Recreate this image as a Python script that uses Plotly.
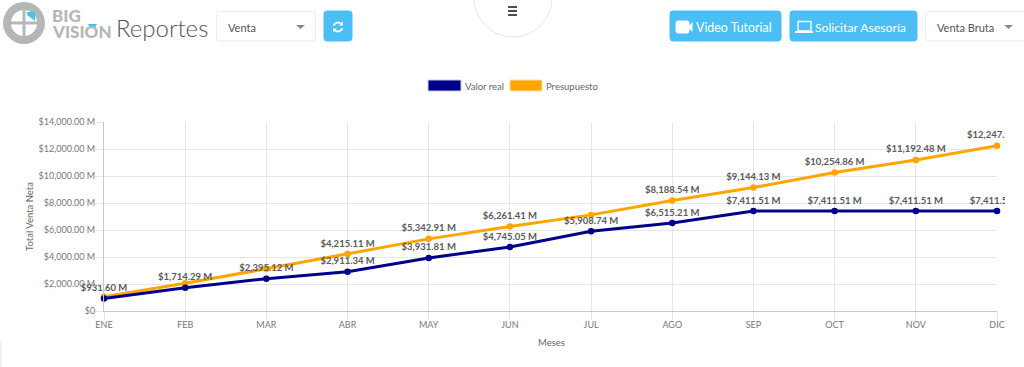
import plotly.graph_objects as go

meses = ["ENE","FEB","MAR","ABR","MAY","JUN","JUL","AGO","SEP","OCT","NOV","DIC"]
valor_real = [931.60,1714.29,2395.12,2911.34,3931.81,4745.05,5908.74,6515.21,7411.51,7411.51,7411.51,7411.51]
presupuesto = [1060,2050,3130,4215.11,5342.91,6261.41,7120,8188.54,9144.13,10254.86,11192.48,12247.90]
presupuesto_con_etiqueta = [False,False,False,True,True,True,False,True,True,True,True,True]
y_ticks = [0,2000,4000,6000,8000,10000,12000,14000]

W, H = 1024, 367
L, R, T, B = 104, 997, 122, 311

def fx(x): return (x - L) / (R - L)
def fy(y): return (B - y) / (B - T)
def money(v): return f"${v:,.2f} M"

shapes, annots = [], []

def rrect(x0, y0, x1, y1, fill, line=None, r=3):
    X0, X1, Y0, Y1 = fx(x0), fx(x1), fy(y0), fy(y1)
    rx, ry = r / (R - L), r / (B - T)
    p = (f"M {X0+rx} {Y0} L {X1-rx} {Y0} Q {X1} {Y0} {X1} {Y0-ry} L {X1} {Y1+ry} Q {X1} {Y1} {X1-rx} {Y1} "
         f"L {X0+rx} {Y1} Q {X0} {Y1} {X0} {Y1+ry} L {X0} {Y0-ry} Q {X0} {Y0} {X0+rx} {Y0} Z")
    shapes.append(dict(type="path", xref="paper", yref="paper", path=p, fillcolor=fill,
                       line=dict(color=line or fill, width=1), layer="above"))

def rect(x0, y0, x1, y1, fill, line=None, lw=0):
    shapes.append(dict(type="rect", xref="paper", yref="paper", x0=fx(x0), x1=fx(x1), y0=fy(y1), y1=fy(y0),
                       fillcolor=fill, line=dict(color=line or fill, width=lw), layer="above"))

def circle(cx, cy, r, fill, line=None, lw=0):
    shapes.append(dict(type="circle", xref="paper", yref="paper", x0=fx(cx-r), x1=fx(cx+r), y0=fy(cy+r), y1=fy(cy-r),
                       fillcolor=fill, line=dict(color=line or fill, width=lw), layer="above"))

def poly(pts, fill):
    p = "M " + " L ".join(f"{fx(a)} {fy(b)}" for a, b in pts) + " Z"
    shapes.append(dict(type="path", xref="paper", yref="paper", path=p, fillcolor=fill,
                       line=dict(color=fill, width=0), layer="above"))

def arc(a, c, b, color, lw):
    p = f"M {fx(a[0])} {fy(a[1])} Q {fx(c[0])} {fy(c[1])} {fx(b[0])} {fy(b[1])}"
    shapes.append(dict(type="path", xref="paper", yref="paper", path=p, fillcolor="rgba(0,0,0,0)",
                       line=dict(color=color, width=lw), layer="above"))

def text(x, y, s, size, color, font="Lato", anchor="left", angle=0, weight=400):
    annots.append(dict(xref="paper", yref="paper", x=fx(x), y=fy(y), text=s, showarrow=False,
                       xanchor=anchor, yanchor="middle", textangle=angle, borderpad=0, borderwidth=0,
                       font=dict(size=size, color=color, family=font, weight=weight)))

BLUE = "#4bbff5"
# clip right edge of chart canvas
rect(1005, 100, 1024, 325, "white")

# Top centre tab
circle(513, -2, 39, "white", "#e6e6e6", 1)
for yy in (7, 11, 15):
    rect(508, yy-0.8, 517, yy+0.8, "#222222")

# Logo
circle(24, 23, 21, "#b4b6b8")
circle(24, 23, 13, "white")
rect(22.5, 8, 25.5, 38, "#b4b6b8")
rect(10, 21.5, 38, 24.5, "#b4b6b8")
poly([(27, 12), (35, 12), (35, 21), (27, 15)], BLUE)
text(52, 15, "BIG", 17, "#b4b6b8", weight=900)
text(52, 32, "VISION", 17, "#b4b6b8", weight=900)
poly([(88, 24), (97, 24), (95, 28), (90, 28)], BLUE)
text(116, 27, "Reportes", 24, "#555555", weight=300)

# Left select & button
rrect(216.5, 11.5, 315.5, 41, "white", "#ececec")
text(228, 27, "Venta", 11, "#555555")
poly([(296, 25), (305, 25), (300.5, 29)], "#888888")
rrect(324, 11, 352, 41, BLUE)
arc((333.5, 25.5), (337, 20.5), (341.5, 24), "white", 2)
poly([(339, 25.5), (343, 25.5), (343, 21.5)], "white")
arc((342.5, 28.5), (339, 33.5), (334.5, 30), "white", 2)
poly([(337, 28.5), (333, 28.5), (333, 32.5)], "white")

# Right buttons
rrect(670, 11, 781, 41, BLUE)
rrect(790, 11, 917, 41, BLUE)
rrect(676, 21, 689, 33, "white", r=2)
poly([(689, 26), (692.5, 22), (692.5, 32), (689, 28)], "white")
text(696, 27, "Video Tutorial", 12.4, "white")
shapes.append(dict(type="rect", xref="paper", yref="paper", x0=fx(798), x1=fx(811), y0=fy(31), y1=fy(21.5),
                   fillcolor=BLUE, line=dict(color="white", width=1.3), layer="above"))
rect(795, 31, 813, 33, "white")
text(815, 27, "Solicitar Asesoría", 12.2, "white")
rrect(925.5, 11.5, 1026, 41, "white", "#ececec")
text(937, 27, "Venta Bruta", 11, "#555555")
poly([(1004, 25), (1013, 25), (1008.5, 29)], "#888888")

# Legend
rect(428, 80, 461, 91, "darkblue", "#c8c8e0", 1)
text(465, 86, "Valor real", 9.5, "#666666")
rect(510, 80, 542, 91, "orange", "#ffe0a0", 1)
text(546, 86, "Presupuesto", 9.5, "#666666")

# Axis titles
text(29, 217, "Total Venta Neta", 9.5, "#666666", anchor="center", angle=-90)
text(551, 342, "Meses", 9.5, "#666666", anchor="center")

# faint corner line
rect(0, 340, 1.5, 367, "#eeeeee")

label_font = dict(family="Lato", size=9.5, color="#595959", weight=700)
fig = go.Figure()
fig.add_trace(go.Scatter(
    x=meses, y=presupuesto, name="Presupuesto", mode="lines+markers+text",
    line=dict(color="orange", width=3), marker=dict(color="orange", size=6.5),
    text=[money(v) if s else "" for v, s in zip(presupuesto, presupuesto_con_etiqueta)],
    textposition="top center", textfont=label_font, cliponaxis=False))
fig.add_trace(go.Scatter(
    x=meses, y=valor_real, name="Valor real", mode="lines+markers+text",
    line=dict(color="darkblue", width=3), marker=dict(color="darkblue", size=6.5),
    text=[money(v) for v in valor_real],
    textposition="top center", textfont=label_font, cliponaxis=False))

axis_font = dict(family="Lato", size=9, color="#777777")
fig.update_layout(
    width=W, height=H, autosize=False, showlegend=False,
    margin=dict(l=L, r=W-R, t=T, b=H-B, pad=0),
    paper_bgcolor="white", plot_bgcolor="white",
    shapes=shapes, annotations=annots,
    xaxis=dict(type="category", range=[0, 11], tickfont=axis_font, showgrid=True, gridcolor="#e6e6e6",
               gridwidth=1, ticks="outside", ticklen=8, tickcolor="#e6e6e6", showline=True, linecolor="#c8c8c8",
               zeroline=False, automargin=False, ticklabelstandoff=-3),
    yaxis=dict(range=[0, 14000], tickvals=y_ticks,
               ticktext=["$0"] + [money(v) for v in y_ticks[1:]], tickfont=axis_font,
               showgrid=True, gridcolor="#e6e6e6", gridwidth=1, ticks="outside", ticklen=8,
               tickcolor="#e6e6e6", showline=True, linecolor="#c8c8c8", zeroline=False, automargin=False,
               ticklabelstandoff=-2),
)
fig.write_html("out.html", config=dict(displayModeBar=False),
               post_script="document.body.style.margin='0';document.documentElement.style.overflow='hidden';")
